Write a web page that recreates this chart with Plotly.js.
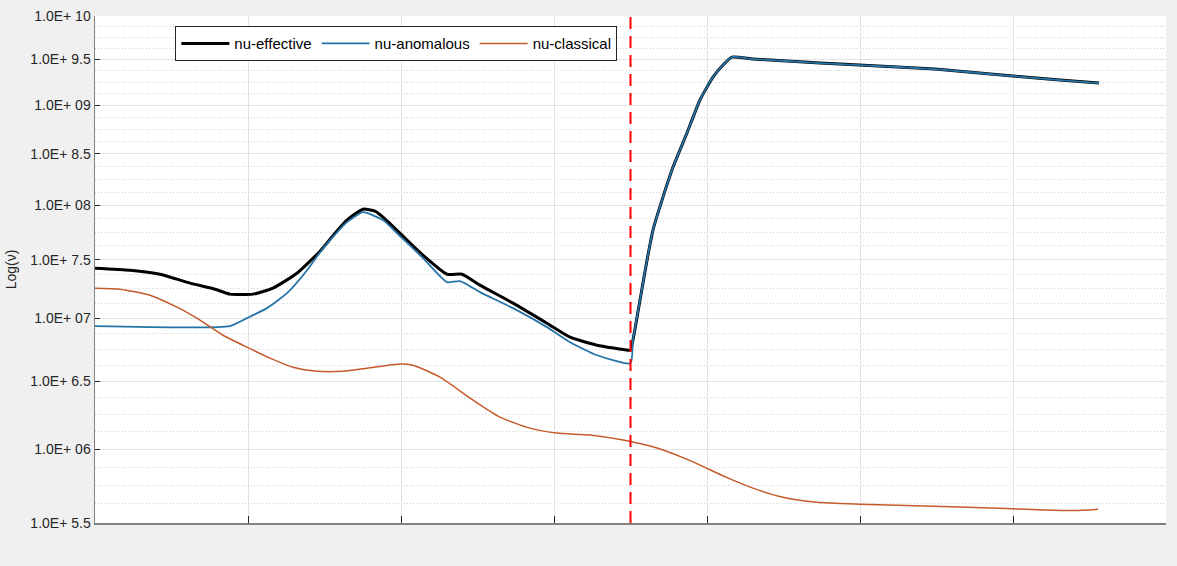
<!DOCTYPE html>
<html>
<head>
<meta charset="utf-8">
<script src="https://cdn.plot.ly/plotly-3.0.1.min.js"></script>
<style>html,body{margin:0;padding:0;background:#f0f0f0;}#chart{width:1177px;height:566px;}</style>
</head>
<body>
<div id="chart"></div>
<script>
// ---- data (log(nu) values) ----
const effX = [0,0.229,0.425,0.621,0.784,0.882,1.033,1.163,1.320,1.471,1.569,1.647,1.752,1.830,1.882,1.993,2.144,2.301,2.399,2.516,2.732,2.954,3.105,3.281,3.484,3.500,3.516,3.562,3.608,3.647,3.706,3.778,3.869,3.954,4.039,4.105,4.163,4.301,4.523,4.739,4.993,5.490,6.000,6.307,6.562];
const effY = [7.428,7.410,7.375,7.298,7.246,7.204,7.204,7.255,7.384,7.578,7.741,7.861,7.963,7.944,7.888,7.741,7.542,7.375,7.375,7.281,7.128,6.961,6.847,6.783,6.743,6.743,6.823,7.153,7.498,7.769,8.048,8.368,8.711,9.057,9.305,9.438,9.527,9.505,9.483,9.460,9.438,9.393,9.316,9.272,9.239];

const anoX = [0,0.882,0.993,1.124,1.255,1.386,1.471,1.536,1.647,1.752,1.882,1.993,2.144,2.255,2.301,2.386,2.516,2.732,2.954,3.105,3.281,3.500,3.516,3.562,3.608,3.647,3.706,3.778,3.869,3.954,4.039,4.105,4.163,4.301,4.523,4.739,4.993,5.490,6.000,6.307,6.562];
const anoY = [6.937,6.937,7.003,7.086,7.212,7.410,7.569,7.677,7.842,7.935,7.861,7.714,7.516,7.358,7.306,7.315,7.221,7.086,6.929,6.807,6.703,6.640,6.823,7.153,7.498,7.769,8.048,8.368,8.711,9.057,9.305,9.438,9.527,9.505,9.483,9.460,9.438,9.393,9.316,9.272,9.239];

const claX = [0,0.163,0.359,0.536,0.686,0.837,0.993,1.144,1.294,1.451,1.621,1.778,1.974,2.078,2.255,2.471,2.647,2.843,3.020,3.235,3.451,3.673,3.882,4.124,4.301,4.497,4.719,5.000,5.477,5.915,6.261,6.458,6.556];
const claY = [7.255,7.246,7.195,7.094,6.987,6.863,6.767,6.680,6.609,6.578,6.578,6.601,6.633,6.625,6.532,6.357,6.231,6.151,6.115,6.101,6.065,6.008,5.923,5.806,5.731,5.669,5.636,5.623,5.609,5.596,5.583,5.583,5.590];

const separatorX = 3.5;
const yTickVals = [5.5,6,6.5,7,7.5,8,8.5,9,9.5,10];
const yTickText = ["1.0E+ 5.5","1.0E+ 06","1.0E+ 6.5","1.0E+ 07","1.0E+ 7.5","1.0E+ 08","1.0E+ 8.5","1.0E+ 09","1.0E+ 9.5","1.0E+ 10"];
const seriesNames = ["nu-effective","nu-anomalous","nu-classical"];

// minor grid positions (every 0.125 between major ticks)
const minorVals = [];
for (let i = 0; i < yTickVals.length - 1; i++) {
  for (let k = 1; k < 4; k++) minorVals.push(yTickVals[i] + k * 0.125);
}

const traces = [
  {x: effX, y: effY, name: seriesNames[0], mode: 'lines', line: {color: '#000000', width: 3, shape: 'spline', smoothing: 0.5}},
  {x: anoX, y: anoY, name: seriesNames[1], mode: 'lines', line: {color: '#2474a8', width: 1.8, shape: 'spline', smoothing: 0.5}},
  {x: claX, y: claY, name: seriesNames[2], mode: 'lines', line: {color: '#c65a2a', width: 1.5, shape: 'spline', smoothing: 0.6}}
];

const fontFam = '"Liberation Sans", Arial, Helvetica, sans-serif';
const layout = {
  width: 1177, height: 566,
  margin: {l: 95, r: 11, t: 16, b: 43, pad: 0},
  paper_bgcolor: '#f0f0f0',
  plot_bgcolor: '#ffffff',
  font: {family: fontFam, size: 14, color: '#262626'},
  showlegend: true,
  legend: {
    orientation: 'h', x: 0.075, y: 0.98, xanchor: 'left', yanchor: 'top',
    bgcolor: '#ffffff', bordercolor: '#262626', borderwidth: 1,
    itemwidth: 48, tracegroupgap: 0,
    font: {family: fontFam, size: 15, color: '#000000'}
  },
  xaxis: {
    range: [0, 7], tickmode: 'linear', tick0: 0, dtick: 1,
    showticklabels: false, ticks: 'inside', ticklen: 7, tickcolor: '#262626', tickwidth: 1,
    showgrid: true, gridcolor: '#e2e2e2', gridwidth: 1,
    showline: true, linecolor: '#808080', linewidth: 1.5,
    zeroline: false
  },
  yaxis: {
    type: 'log', range: [Math.log10(5.5), 1],
    tickmode: 'array', tickvals: yTickVals, ticktext: yTickText,
    ticks: 'inside', ticklen: 5, tickcolor: '#262626',
    showgrid: true, gridcolor: '#e2e2e2', gridwidth: 1,
    showline: true, linecolor: '#808080', linewidth: 1.5,
    zeroline: false,
    tickfont: {family: fontFam, size: 14, color: '#262626'},
    minor: {tickmode: 'array', tickvals: minorVals, ticks: '', showgrid: true, griddash: '1px,2px', gridcolor: '#d2d2d2', gridwidth: 1},
    title: {text: 'Log(\u03BD)', font: {family: fontFam, size: 14, color: '#262626'}, standoff: 10}
  },
  shapes: [{
    type: 'line', xref: 'x', yref: 'paper', x0: separatorX, x1: separatorX, y0: 0, y1: 1,
    line: {color: '#ff0000', width: 2, dash: '12px,7px'}
  }]
};

Plotly.newPlot('chart', traces, layout, {displayModeBar: false, staticPlot: true});
</script>
</body>
</html>
